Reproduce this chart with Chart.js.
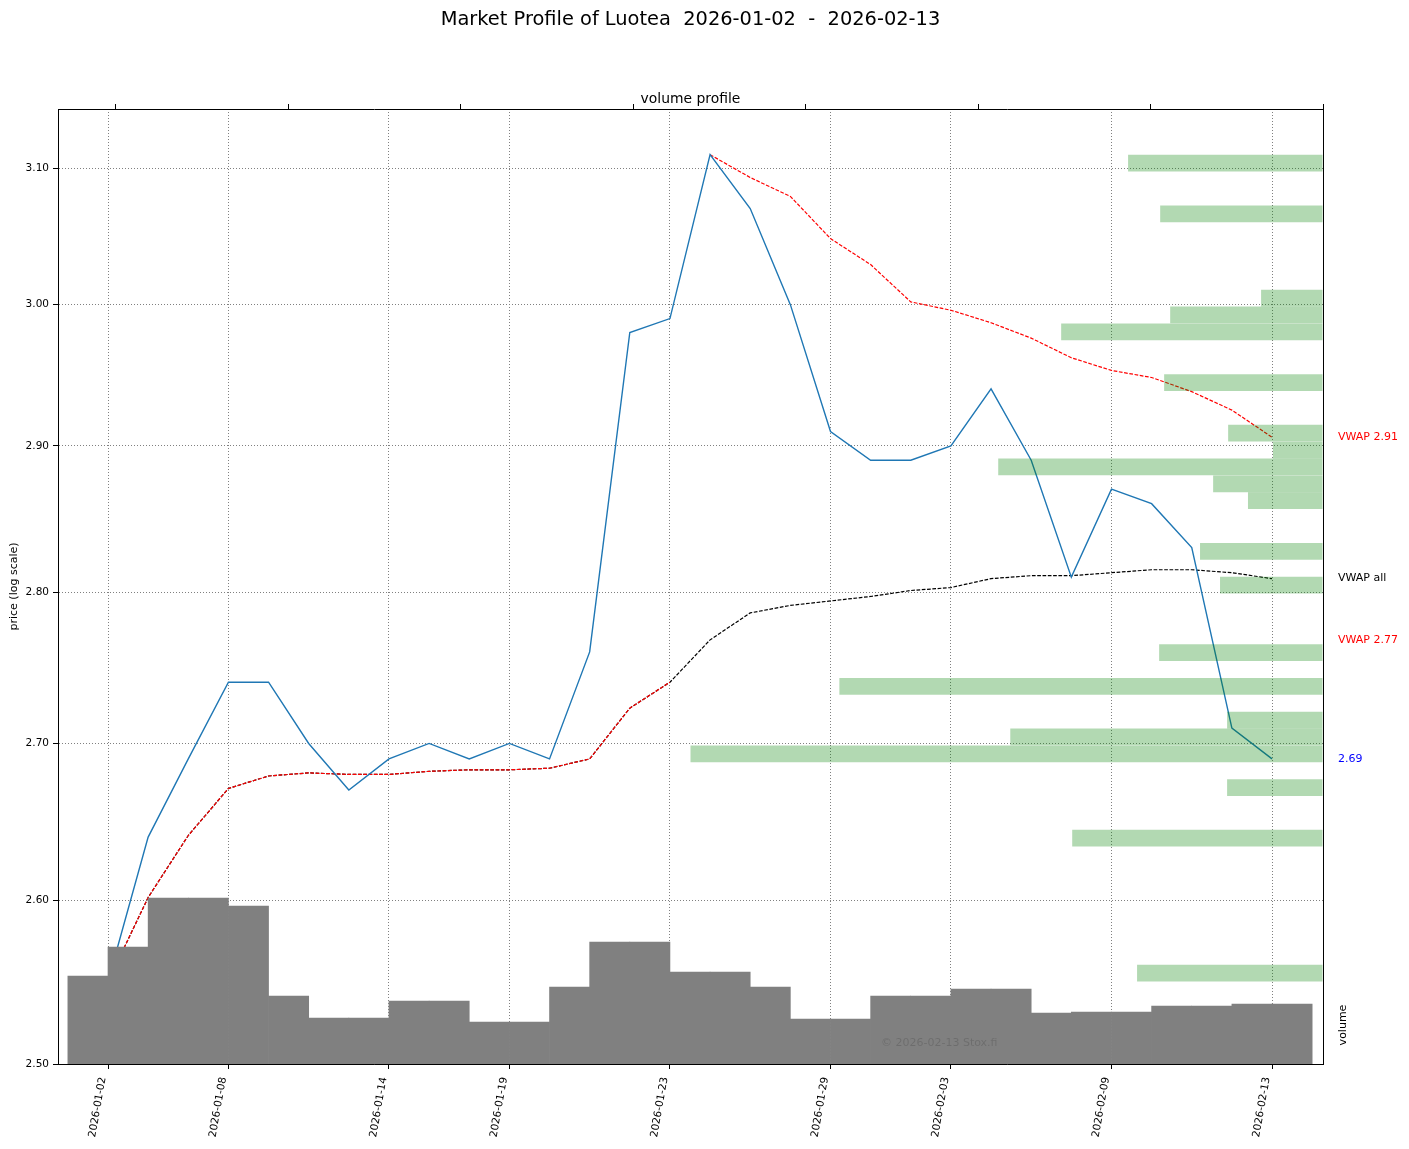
<!DOCTYPE html>
<html>
<head>
<meta charset="utf-8">
<title>Market Profile of Luotea</title>
<script src="https://cdn.jsdelivr.net/npm/chart.js@4.4.1/dist/chart.umd.min.js"></script>
<style>
  html, body { margin: 0; padding: 0; background: #fff; }
</style>
</head>
<body>
<canvas id="chart" width="1409" height="1149"></canvas>
<script>
// trading days (Helsinki), x axis is the day index
const dates = ['2026-01-02', '2026-01-05', '2026-01-07', '2026-01-08', '2026-01-09', '2026-01-12',
  '2026-01-13', '2026-01-14', '2026-01-15', '2026-01-16', '2026-01-19', '2026-01-20', '2026-01-21',
  '2026-01-22', '2026-01-23', '2026-01-26', '2026-01-27', '2026-01-28', '2026-01-29', '2026-01-30',
  '2026-02-02', '2026-02-03', '2026-02-04', '2026-02-05', '2026-02-06', '2026-02-09', '2026-02-10',
  '2026-02-11', '2026-02-12', '2026-02-13'];
const dateTicks = [0, 3, 7, 10, 14, 18, 21, 25, 29];
const priceTicks = [2.5, 2.6, 2.7, 2.8, 2.9, 3.0, 3.1];
const profileTicks = [0, 100000, 200000, 300000, 400000, 500000, 600000, 700000];

const close = [2.55, 2.64, 2.69, 2.74, 2.74, 2.70, 2.67, 2.69, 2.70, 2.69, 2.70, 2.69, 2.76, 2.98, 2.99,
  3.11, 3.07, 3.00, 2.91, 2.89, 2.89, 2.90, 2.94, 2.89, 2.81, 2.87, 2.86, 2.83, 2.71, 2.69];
const vwapAll = [2.550, 2.602, 2.641, 2.671, 2.679, 2.681, 2.680, 2.680, 2.682, 2.683, 2.683, 2.684, 2.690,
  2.723, 2.740, 2.768, 2.786, 2.791, 2.794, 2.797, 2.801, 2.803, 2.809, 2.811, 2.811, 2.813, 2.815, 2.815,
  2.813, 2.809];
// vwap from the low runs with vwapAll up to the day before the high
const vwapLowEnd = 14;
// vwap anchored at the high
const vwapHighStart = 15;
const vwapHigh = [3.110, 3.093, 3.079, 3.048, 3.029, 3.002, 2.996, 2.987, 2.976, 2.962, 2.953, 2.948,
  2.938, 2.925, 2.906];

// daily volume bars (31 bars, one unit wide, right edge on the day)
const volume = [88000, 117000, 166000, 166000, 158000, 68000, 46000, 46000, 63000, 63000, 42000, 42000,
  77000, 122000, 122000, 92000, 92000, 77000, 45000, 45000, 68000, 68000, 75000, 75000, 51000, 52000,
  52000, 58000, 58000, 60000, 60000];
const volMax = 955000;

// volume profile: bin centre price and traded volume
const profilePrice = [3.1037, 3.0662, 3.0047, 2.9926, 2.9805, 2.9444, 2.9089, 2.8971, 2.8854, 2.8737,
  2.8621, 2.8275, 2.8047, 2.7596, 2.7373, 2.7152, 2.7043, 2.6933, 2.6716, 2.6393, 2.5551];
const profileVolume = [113000, 94400, 35900, 88600, 151800, 92100, 55000, 29000, 188300, 63700, 43500,
  71300, 59700, 95000, 280400, 55600, 181300, 366700, 55600, 145400, 107800];

// labels to the right of the plot
const sideText = ['VWAP 2.91', 'VWAP all', 'VWAP 2.77', '2.69'];
const sideValue = [2.906, 2.809, 2.768, 2.69];
const sideColor = ['#ff0000', '#000000', '#ff0000', '#0000ff'];

const title = 'Market Profile of Luotea  ' + dates[0] + '  -  ' + dates[dates.length - 1];

Chart.defaults.font.family = '"DejaVu Sans", sans-serif';

const dotted = [1, 2];
const gridStyle = { color: '#808080', lineWidth: 1, tickColor: '#000', tickLength: 5, tickWidth: 1, offset: false };

const textPlugin = {
  id: 'texts',
  afterDraw(chart) {
    const ctx = chart.ctx;
    const a = chart.chartArea;
    const y = chart.scales.y;
    const cx = (a.left + a.right) / 2;
    ctx.save();
    ctx.fillStyle = '#000';
    ctx.textAlign = 'center';
    ctx.textBaseline = 'alphabetic';
    ctx.font = '19.4px "DejaVu Sans"';
    ctx.fillText(title, cx, 25);
    ctx.font = '13.9px "DejaVu Sans"';
    ctx.fillText('volume profile', cx, a.top - 6);

    ctx.font = '11px "DejaVu Sans"';
    ctx.textBaseline = 'middle';
    ctx.save();
    ctx.translate(14, (a.top + a.bottom) / 2);
    ctx.rotate(-Math.PI / 2);
    ctx.fillText('price (log scale)', 0, 0);
    ctx.restore();

    ctx.save();
    ctx.translate(a.right + 20.5, a.bottom - 39);
    ctx.rotate(-Math.PI / 2);
    ctx.fillText('volume', 0, 0);
    ctx.restore();

    ctx.textAlign = 'left';
    sideText.forEach((t, i) => {
      ctx.fillStyle = sideColor[i];
      ctx.fillText(t, a.right + 15, y.getPixelForValue(sideValue[i]));
    });

    ctx.fillStyle = 'rgba(0,0,0,0.15)';
    ctx.textBaseline = 'alphabetic';
    ctx.fillText('\u00a9 ' + dates[dates.length - 1] + ' Stox.fi', a.left + 823, a.bottom - 18);
    ctx.restore();
  }
};

const lineOpts = { type: 'line', xAxisID: 'x', yAxisID: 'y', pointRadius: 0, tension: 0, fill: false };

new Chart(document.getElementById('chart'), {
  type: 'line',
  data: {
    datasets: [
      {
        type: 'bar', label: 'volume profile', indexAxis: 'y', xAxisID: 'xProf', yAxisID: 'y',
        data: profilePrice.map((p, i) => ({ x: profileVolume[i], y: p })),
        backgroundColor: 'rgba(0,128,0,0.3)', borderWidth: 0, inflateAmount: 0,
        barPercentage: 1, categoryPercentage: 1, grouped: false, order: 0
      },
      {
        type: 'bar', label: 'volume', xAxisID: 'x', yAxisID: 'yVol',
        data: volume.map((v, k) => ({ x: k - 0.5, y: v })),
        backgroundColor: '#808080', borderWidth: 0,
        barPercentage: 1, categoryPercentage: 1, grouped: false, order: 1
      },
      Object.assign({}, lineOpts, {
        label: 'close', data: close.map((v, i) => ({ x: i, y: v })),
        borderColor: '#1f77b4', borderWidth: 1.4, order: 2
      }),
      Object.assign({}, lineOpts, {
        label: 'VWAP high', data: vwapHigh.map((v, i) => ({ x: vwapHighStart + i, y: v })),
        borderColor: '#ff0000', borderWidth: 1.2, borderDash: [3.7, 1.6], order: 3
      }),
      Object.assign({}, lineOpts, {
        label: 'VWAP low', data: vwapAll.slice(0, vwapLowEnd + 1).map((v, i) => ({ x: i, y: v })),
        borderColor: '#ff0000', borderWidth: 1.2, borderDash: [3.7, 1.6], order: 4
      }),
      Object.assign({}, lineOpts, {
        label: 'VWAP all', data: vwapAll.map((v, i) => ({ x: i, y: v })),
        borderColor: '#000000', borderWidth: 1.2, borderDash: [3.7, 1.6], order: 5
      })
    ]
  },
  options: {
    responsive: false,
    animation: false,
    devicePixelRatio: 1,
    layout: { padding: { left: 0, right: 86, top: 0, bottom: 0 } },
    plugins: {
      legend: { display: false },
      title: { display: false },
      tooltip: { enabled: false }
    },
    scales: {
      x: {
        type: 'linear', position: 'bottom', min: -1.2457, max: 30.27, offset: false,
        afterBuildTicks: s => { s.ticks = dateTicks.map(v => ({ value: v })); },
        afterFit: s => { s.height = 85; },
        ticks: {
          autoSkip: false, minRotation: 80, maxRotation: 80, labelOffset: -5, padding: 7,
          color: '#000', font: { size: 10.5 }, callback: v => dates[v]
        },
        grid: gridStyle,
        border: { display: true, color: '#000', width: 1, dash: dotted, z: 1 }
      },
      y: {
        type: 'logarithmic', position: 'left', min: 2.5, max: 3.1443, offset: false,
        afterBuildTicks: s => { s.ticks = priceTicks.map(v => ({ value: v })); },
        afterFit: s => { s.width = 58; },
        ticks: { color: '#000', font: { size: 10.5 }, padding: 4, callback: v => Number(v).toFixed(2) },
        grid: gridStyle,
        border: { display: true, color: '#000', width: 1, dash: dotted, z: 1 }
      },
      yVol: {
        type: 'linear', position: 'right', min: 0, max: volMax, offset: false,
        afterFit: s => { s.width = 0; },
        ticks: { display: false },
        grid: { display: false, drawTicks: false, offset: false },
        border: { display: true, color: '#000', width: 1, z: 1 }
      },
      xProf: {
        type: 'linear', position: 'top', reverse: true, min: 0, max: Math.max(...profileVolume) * 2,
        offset: false,
        afterBuildTicks: s => { s.ticks = profileTicks.map(v => ({ value: v })); },
        afterFit: s => { s.height = 109; },
        ticks: { display: false },
        grid: { display: true, drawOnChartArea: false, drawTicks: true, tickLength: 5, tickWidth: 1,
          tickColor: '#000', color: '#000', offset: false },
        border: { display: true, color: '#000', width: 1, z: 1 }
      }
    }
  },
  plugins: [textPlugin]
});
</script>
</body>
</html>
